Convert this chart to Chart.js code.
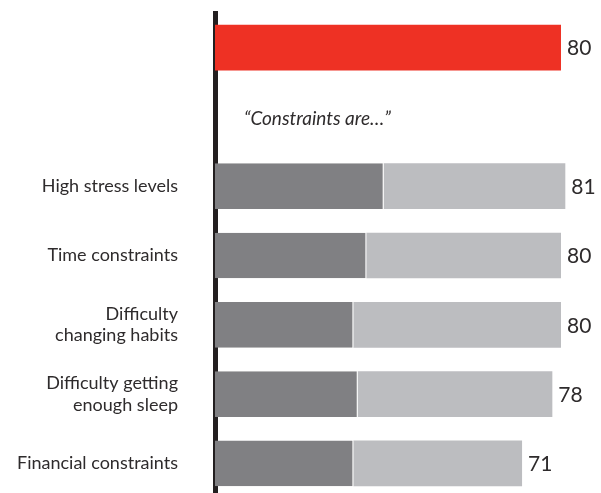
<!DOCTYPE html>
<html>
<head>
<meta charset="utf-8">
<script src="https://cdn.jsdelivr.net/npm/chart.js@4"></script>
<style>
  html, body { margin: 0; padding: 0; background: #ffffff; overflow: hidden; }
  #wrap { width: 601px; height: 498px; position: relative; }
</style>
</head>
<body>
<div id="wrap"><canvas id="grafico"></canvas></div>
<script>
// categorie: la prima è il totale, la seconda è solo la riga del sottotitolo
const categorie = ["", "", "High stress levels", "Time constraints", ["Difficulty", "changing habits"], ["Difficulty getting", "enough sleep"], "Financial constraints"];
const totale = [80, null, null, null, null, null, null];
const scuro = [null, null, 39, 35, 32, 33, 32];
const chiaro = [null, null, 42, 45, 48, 45, 39];
const etichette = ["80", "", "81", "80", "80", "78", "71"];
const sottotitolo = "\u201cConstraints are\u2026\u201d";

const FONT = "Lato, 'Noto Sans', sans-serif";

// scrive i valori a destra delle barre e il sottotitolo in corsivo
const scritte = {
    id: "scritte",
    afterDatasetsDraw(chart) {
        const ctx = chart.ctx;
        const x = chart.scales.x;
        const y = chart.scales.y;
        ctx.save();
        ctx.fillStyle = "#2e2b2c";
        ctx.font = "21px " + FONT;
        ctx.textBaseline = "middle";
        ctx.textAlign = "left";
        for (let i = 0; i < categorie.length; i++) {
            if (!etichette[i]) continue;
            const tot = (totale[i] || 0) + (scuro[i] || 0) + (chiaro[i] || 0);
            ctx.fillText(etichette[i], x.getPixelForValue(tot) + 6, y.getPixelForValue(i) + 1);
        }
        ctx.font = "italic 19px " + FONT;
        ctx.fillText(sottotitolo, chart.chartArea.left + 29, y.getPixelForValue(1) + 2);
        ctx.restore();
    }
};

new Chart(document.getElementById("grafico"), {
    type: "bar",
    data: {
        labels: categorie,
        datasets: [{
            label: "Totale",
            data: totale,
            backgroundColor: "#ee3124",
            borderWidth: 0
        }, {
            label: "Scuro",
            data: scuro,
            backgroundColor: "#808083",
            borderColor: "#ffffff",
            borderWidth: {right: 1, left: 0, top: 0, bottom: 0},
            borderSkipped: false
        }, {
            label: "Chiaro",
            data: chiaro,
            backgroundColor: "#bcbdc0",
            borderWidth: 0
        }]
    },
    plugins: [scritte],
    options: {
        indexAxis: "y",
        responsive: true,
        maintainAspectRatio: false,
        animation: false,
        datasets: {
            bar: {categoryPercentage: 0.66, barPercentage: 1}
        },
        layout: {padding: {top: 13, right: 0, bottom: 0, left: 0}},
        plugins: {
            legend: {display: false},
            tooltip: {enabled: false}
        },
        scales: {
            x: {
                stacked: true,
                min: 0,
                max: 89.25,
                display: false
            },
            y: {
                stacked: true,
                afterFit: function(scale) {
                    scale.width = 215;
                    scale.paddingTop = 0;
                    scale.paddingBottom = 0;
                },
                grid: {display: false, drawTicks: false},
                border: {display: true, color: "#231f20", width: 5},
                ticks: {
                    color: "#2e2b2c",
                    padding: 37,
                    font: {family: FONT, size: 18}
                }
            }
        }
    }
});
</script>
</body>
</html>
